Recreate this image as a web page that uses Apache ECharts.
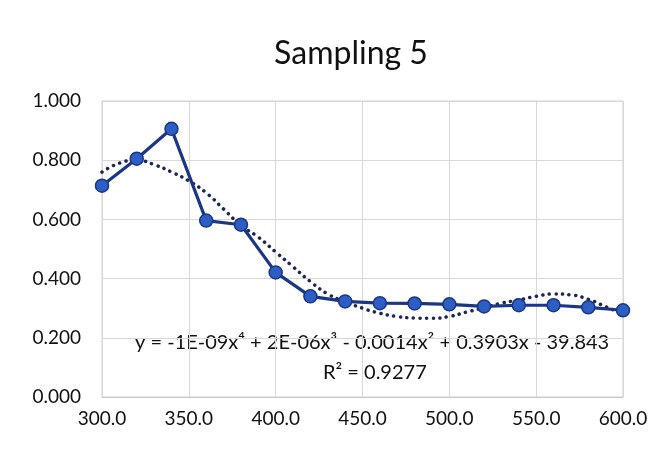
<!DOCTYPE html>
<html>
<head>
<meta charset="utf-8">
<script src="https://cdn.jsdelivr.net/npm/echarts@6/dist/echarts.min.js"></script>
<style>
html,body{margin:0;padding:0;background:#fff;}
#c{width:666px;height:454px;}
</style>
</head>
<body>
<div id="c"></div>
<script>
// Data
var xValues = [300, 320, 340, 360, 380, 400, 420, 440, 460, 480, 500, 520, 540, 560, 580, 600];
var yValues = [0.714, 0.805, 0.906, 0.596, 0.582, 0.421, 0.340, 0.323, 0.317, 0.316, 0.313, 0.306, 0.310, 0.310, 0.303, 0.293];
var trendX = [300, 310, 320, 330, 340, 350, 360, 370, 380, 390, 400, 410, 420, 430, 440, 450, 460, 470, 480, 490, 500, 510, 520, 530, 540, 550, 560, 570, 580, 590, 600];
var trendY = [0.760, 0.790, 0.800, 0.785, 0.760, 0.730, 0.690, 0.635, 0.580, 0.540, 0.490, 0.440, 0.390, 0.348, 0.322, 0.300, 0.283, 0.272, 0.267, 0.266, 0.272, 0.287, 0.302, 0.317, 0.328, 0.340, 0.348, 0.345, 0.330, 0.305, 0.280];
var yTicks = ['0.000', '0.200', '0.400', '0.600', '0.800', '1.000'];
var xTicks = ['300.0', '350.0', '400.0', '450.0', '500.0', '550.0', '600.0'];
var titleText = 'Sampling 5';
var eqText = 'y = -1E-09x\u2074 + 2E-06x\u00B3 - 0.0014x\u00B2 + 0.3903x - 39.843';
var r2Text = 'R\u00B2 = 0.9277';

var mainData = xValues.map(function (x, i) { return [x, yValues[i]]; });
var trendData = trendX.map(function (x, i) { return [x, trendY[i]]; });

var chart = echarts.init(document.getElementById('c'), null, {renderer: 'canvas'});
var font = 'Lato, "Open Sans", sans-serif';
chart.setOption({
  animation: false,
  backgroundColor: '#ffffff',
  title: {
    text: titleText,
    left: 346, top: 33, textAlign: 'center',
    textStyle: {fontFamily: font, fontSize: 32, fontWeight: 'normal', color: '#111'}
  },
  grid: {left: 102, right: 43, top: 101, bottom: 57, show: true, borderColor: '#d0d0d0', borderWidth: 1},
  xAxis: {
    type: 'value', min: 300, max: 600, interval: 50,
    axisLine: {show: true, lineStyle: {color: '#c8c8c8'}},
    axisTick: {show: false},
    splitLine: {show: true, lineStyle: {color: '#d8d8d8', width: 1}},
    axisLabel: {
      margin: 12, color: '#111', fontFamily: font, fontSize: 19,
      formatter: function (v) { return xTicks[Math.round((v - 300) / 50)]; }
    }
  },
  yAxis: {
    type: 'value', min: 0, max: 1, interval: 0.2,
    axisLine: {show: false},
    axisTick: {show: false},
    splitLine: {show: true, lineStyle: {color: '#d8d8d8', width: 1}},
    axisLabel: {
      margin: 21, color: '#111', fontFamily: font, fontSize: 19,
      formatter: function (v) { return yTicks[Math.round(v / 0.2)]; }
    }
  },
  series: [
    {
      type: 'line', data: mainData, z: 3,
      symbol: 'circle', symbolSize: 13,
      lineStyle: {color: '#1a3685', width: 3.2},
      itemStyle: {color: '#2c5ec4', borderColor: '#1a3685', borderWidth: 1.5}
    },
    {
      type: 'line', data: trendData, z: 2, smooth: true,
      showSymbol: false, symbol: 'none',
      lineStyle: {color: '#1b2750', width: 3.5, type: [0.1, 6.5], cap: 'round'}
    }
  ],
  graphic: [
    {type: 'text', left: 135, top: 333, style: {text: eqText, font: '20px ' + font, fill: '#111'}},
    {type: 'text', left: 323, top: 363, style: {text: r2Text, font: '20px ' + font, fill: '#111'}}
  ]
});
</script>
</body>
</html>
